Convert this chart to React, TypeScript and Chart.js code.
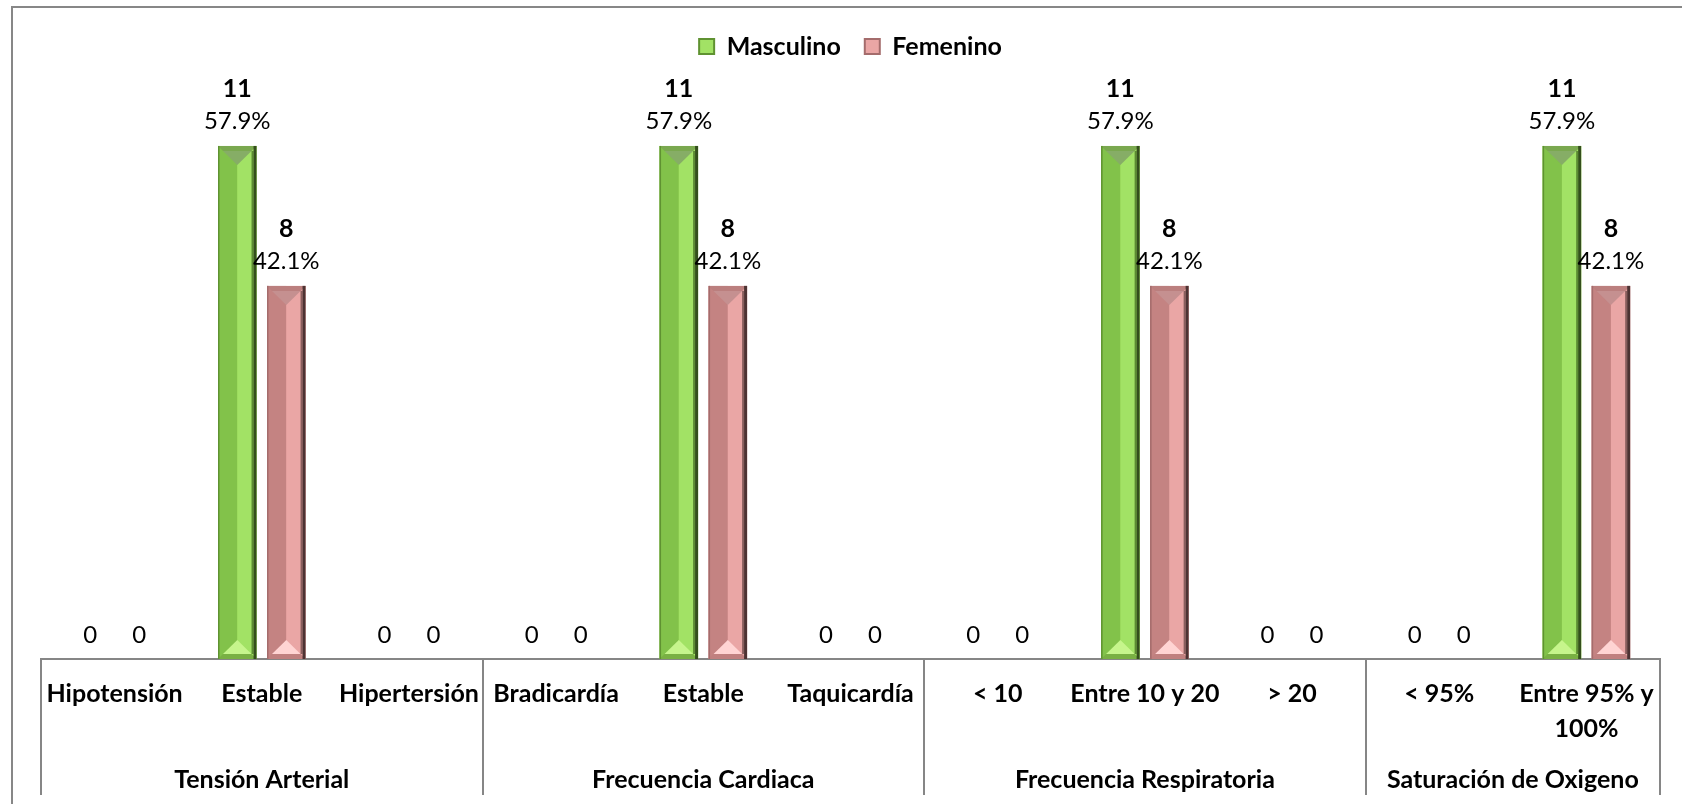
import React, { useEffect, useRef } from "react";
import { Chart, registerables } from "chart.js";

Chart.register(...registerables);

// Categories on the x axis (grouped below by vital sign)
const categories: (string | string[])[] = [
  "Hipotensión",
  "Estable",
  "Hipertersión",
  "Bradicardía",
  "Estable",
  "Taquicardía",
  "< 10",
  "Entre 10 y 20",
  "> 20",
  "< 95%",
  ["Entre 95% y", "100%"],
];

const groupNames = [
  "Tensión Arterial",
  "Frecuencia Cardiaca",
  "Frecuencia Respiratoria",
  "Saturación de Oxigeno",
];
const groupSpans = [3, 3, 3, 2];

const seriesNames = ["Masculino", "Femenino"];
const masculino = [0, 11, 0, 0, 11, 0, 0, 11, 0, 0, 11];
const femenino = [0, 8, 0, 0, 8, 0, 0, 8, 0, 0, 8];

const FONT = "Lato, 'Open Sans', 'DejaVu Sans', sans-serif";
const TEXT_SIZE = 24;
const BOLD_SIZE = 25;
const AXIS_GRAY = "#868686";
const Y_MAX = 12.65;

type Palette = {
  base: string;
  leftHalf: string;
  rightHalf: string;
  leftEdge: string;
  rightEdge: string;
  rightEdgeInner: string;
  topBand: string;
  topV: string;
  bottomBand: string;
  bottomTri: string;
};

const palettes: Palette[] = [
  {
    base: "#92D050",
    leftHalf: "#82c24a",
    rightHalf: "#a2e265",
    leftEdge: "#5f9231",
    rightEdge: "#344f1c",
    rightEdgeInner: "#5c8b33",
    topBand: "#7aa84f",
    topV: "#86ad66",
    bottomBand: "#79b043",
    bottomTri: "#c6f58c",
  },
  {
    base: "#D99694",
    leftHalf: "#c48382",
    rightHalf: "#eaa6a5",
    leftEdge: "#a46c6c",
    rightEdge: "#4d3333",
    rightEdgeInner: "#8a5f5e",
    topBand: "#bb7f7e",
    topV: "#c59090",
    bottomBand: "#c0807f",
    bottomTri: "#ffd4d3",
  },
];

function poly(ctx: CanvasRenderingContext2D, pts: number[][], color: string) {
  ctx.beginPath();
  ctx.moveTo(pts[0][0], pts[0][1]);
  for (let i = 1; i < pts.length; i++) ctx.lineTo(pts[i][0], pts[i][1]);
  ctx.closePath();
  ctx.fillStyle = color;
  ctx.fill();
}

// Paints an angled bevel over each bar
const bevelPlugin = {
  id: "bevelBars",
  afterDatasetsDraw(chart: any) {
    const ctx: CanvasRenderingContext2D = chart.ctx;
    chart.data.datasets.forEach((_ds: any, di: number) => {
      const meta = chart.getDatasetMeta(di);
      const pal = palettes[di];
      meta.data.forEach((el: any) => {
        const { x, y, base, width } = el.getProps(["x", "y", "base", "width"], true);
        const left = x - width / 2;
        const right = x + width / 2;
        const top = Math.min(y, base);
        const bottom = Math.max(y, base);
        const h = bottom - top;
        if (h < 2) return;
        const b = Math.min(5, h / 5);
        ctx.save();
        ctx.fillStyle = pal.leftHalf;
        ctx.fillRect(left, top, width / 2, h);
        ctx.fillStyle = pal.rightHalf;
        ctx.fillRect(x, top, width / 2, h);
        // top bevel band and inner V
        poly(ctx, [[left, top], [right, top], [right - b, top + b], [left + b, top + b]], pal.topBand);
        const vDepth = Math.min(14, h / 3);
        poly(ctx, [[left + b, top + b], [right - b, top + b], [x, top + b + vDepth]], pal.topV);
        // bottom bevel band and light triangle
        poly(ctx, [[left, bottom], [right, bottom], [right - b, bottom - b], [left + b, bottom - b]], pal.bottomBand);
        const tDepth = Math.min(14, h / 3);
        poly(ctx, [[left + b, bottom - b], [right - b, bottom - b], [x, bottom - b - tDepth]], pal.bottomTri);
        // side edges
        ctx.fillStyle = pal.leftEdge;
        ctx.fillRect(left, top, 1.5, h);
        ctx.fillStyle = pal.rightEdgeInner;
        ctx.fillRect(right - 5, top + b, 2, h - 2 * b);
        ctx.fillStyle = pal.rightEdge;
        ctx.fillRect(right - 3, top, 3, h);
        ctx.restore();
      });
    });
  },
};

// Count and share labels above each bar
const valueLabelPlugin = {
  id: "valueLabels",
  afterDatasetsDraw(chart: any) {
    const ctx: CanvasRenderingContext2D = chart.ctx;
    const datasets = chart.data.datasets;
    ctx.save();
    ctx.textAlign = "center";
    ctx.textBaseline = "middle";
    ctx.fillStyle = "#000";
    datasets.forEach((ds: any, di: number) => {
      const meta = chart.getDatasetMeta(di);
      meta.data.forEach((el: any, i: number) => {
        const v = ds.data[i] as number;
        const total = datasets.reduce((s: number, d: any) => s + (d.data[i] as number), 0);
        const { x, y, base } = el.getProps(["x", "y", "base"], true);
        if (v === 0) {
          ctx.font = `${TEXT_SIZE}px ${FONT}`;
          ctx.fillText("0", x, base - 24);
          return;
        }
        const pct = ((v / total) * 100).toFixed(1) + "%";
        ctx.font = `bold ${BOLD_SIZE}px ${FONT}`;
        ctx.fillText(String(v), x, y - 57);
        ctx.font = `${TEXT_SIZE}px ${FONT}`;
        ctx.fillText(pct, x, y - 25);
      });
    });
    ctx.restore();
  },
};

// Group captions under the categories, with separating lines
const groupAxisPlugin = {
  id: "groupAxis",
  afterDraw(chart: any) {
    const ctx: CanvasRenderingContext2D = chart.ctx;
    const xs = chart.scales.x;
    const yTop = chart.chartArea.bottom;
    const yEnd = 795;
    ctx.save();
    ctx.strokeStyle = AXIS_GRAY;
    ctx.lineWidth = 2;
    let start = 0;
    const bounds: number[] = [start];
    groupSpans.forEach((n) => {
      start += n;
      bounds.push(start);
    });
    bounds.forEach((b) => {
      const px = Math.round(xs.getPixelForValue(b - 0.5));
      ctx.beginPath();
      ctx.moveTo(px, yTop);
      ctx.lineTo(px, yEnd);
      ctx.stroke();
    });
    ctx.fillStyle = "#000";
    ctx.textAlign = "center";
    ctx.textBaseline = "middle";
    ctx.font = `bold ${BOLD_SIZE}px ${FONT}`;
    groupNames.forEach((name, gi) => {
      const a = xs.getPixelForValue(bounds[gi] - 0.5);
      const c = xs.getPixelForValue(bounds[gi + 1] - 0.5);
      ctx.fillText(name, (a + c) / 2, 780);
    });
    ctx.restore();
  },
};

// Outer frame of the chart
const framePlugin = {
  id: "frame",
  beforeDraw(chart: any) {
    const ctx: CanvasRenderingContext2D = chart.ctx;
    ctx.save();
    ctx.fillStyle = "#fff";
    ctx.fillRect(0, 0, chart.width, chart.height);
    ctx.strokeStyle = "#878787";
    ctx.lineWidth = 2;
    ctx.beginPath();
    ctx.moveTo(12, chart.height);
    ctx.lineTo(12, 7);
    ctx.lineTo(chart.width, 7);
    ctx.stroke();
    ctx.restore();
  },
};

export default function App() {
  const canvasRef = useRef<HTMLCanvasElement | null>(null);

  useEffect(() => {
    if (!canvasRef.current) return;
    const chart = new Chart(canvasRef.current, {
      type: "bar",
      data: {
        labels: categories,
        datasets: [
          {
            label: seriesNames[0],
            data: masculino,
            backgroundColor: palettes[0].base,
            categoryPercentage: 0.666,
            barPercentage: 0.786,
          },
          {
            label: seriesNames[1],
            data: femenino,
            backgroundColor: palettes[1].base,
            categoryPercentage: 0.666,
            barPercentage: 0.786,
          },
        ],
      },
      options: {
        animation: false,
        responsive: false,
        devicePixelRatio: 1,
        layout: { padding: { left: 41, right: 22, top: 10, bottom: 0 } },
        plugins: {
          tooltip: { enabled: false },
          legend: {
            position: "top",
            labels: {
              color: "#000",
              font: { family: FONT, size: BOLD_SIZE, weight: "bold" },
              boxWidth: 15,
              boxHeight: 15,
              padding: 24,
              generateLabels: (c: any) =>
                c.data.datasets.map((ds: any, i: number) => ({
                  text: ds.label,
                  fillStyle: palettes[i].rightHalf,
                  strokeStyle: palettes[i].leftEdge,
                  lineWidth: 2,
                  fontColor: "#000",
                  hidden: false,
                  datasetIndex: i,
                })),
            },
          },
        },
        scales: {
          x: {
            grid: { display: false, drawTicks: false },
            border: { display: true, color: AXIS_GRAY, width: 2 },
            ticks: {
              color: "#000",
              autoSkip: false,
              maxRotation: 0,
              padding: 17,
              font: { family: FONT, size: BOLD_SIZE, weight: "bold", lineHeight: 1.4 },
            },
            afterFit: (s: any) => {
              s.height = 145;
            },
          },
          y: { display: false, min: 0, max: Y_MAX },
        },
      },
      plugins: [framePlugin, bevelPlugin, valueLabelPlugin, groupAxisPlugin],
    } as any);
    return () => chart.destroy();
  }, []);

  return (
    <div style={{ position: "absolute", left: 0, top: 0, width: 1682, height: 804 }}>
      <canvas ref={canvasRef} width={1682} height={804} style={{ display: "block" }} />
    </div>
  );
}
